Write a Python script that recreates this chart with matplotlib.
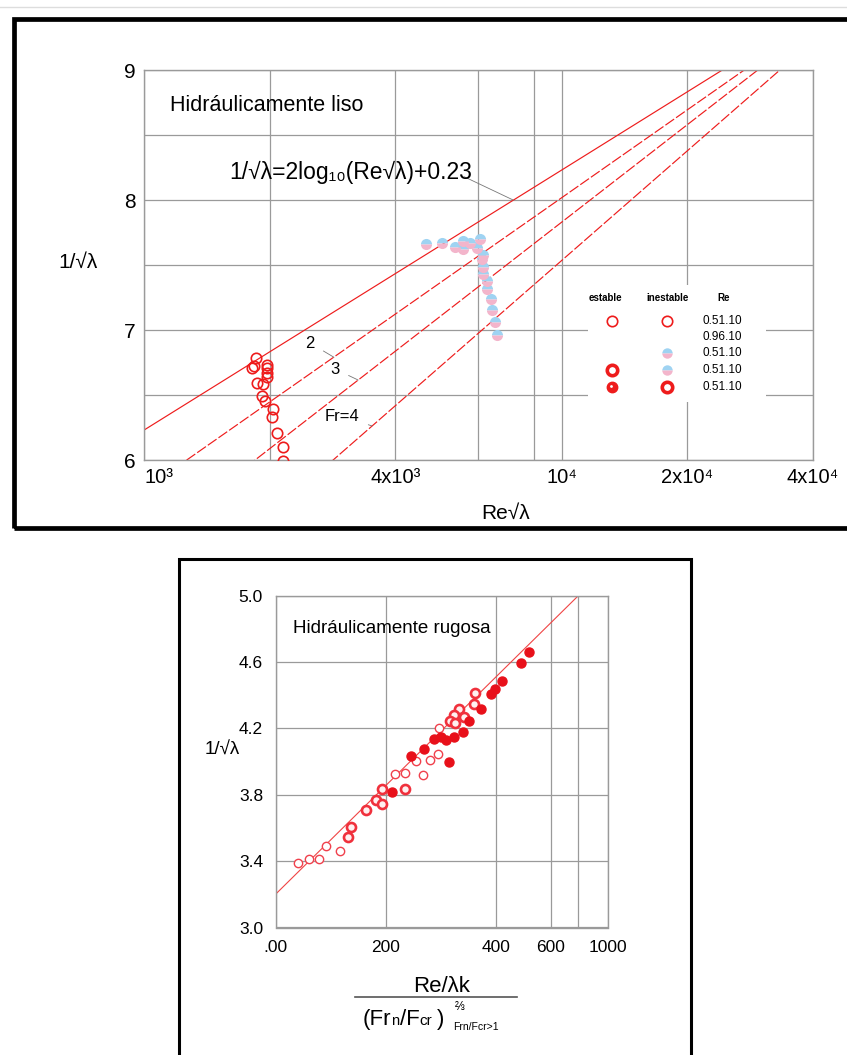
import matplotlib
matplotlib.use("Agg")
import matplotlib.pyplot as plt
import numpy as np
from matplotlib.lines import Line2D
from matplotlib.patches import Rectangle
from matplotlib.scale import FuncScale

FONT = ["Liberation Sans", "DejaVu Sans"]
plt.rcParams["font.family"] = FONT

W, H = 847, 1055

# ---------------- top panel data (hydraulically smooth) ----------------
# red open circles: estable, Re 0.51
est_x = [1855, 1833, 1811, 1968, 1968, 1974, 1968, 1863, 1924, 1913, 1949,
         2033, 2029, 2078, 2158, 2158]
est_y = [6.787, 6.723, 6.705, 6.731, 6.705, 6.672, 6.641, 6.590, 6.585, 6.492,
         6.456, 6.392, 6.328, 6.210, 6.098, 5.995]
# blue/pink circles: inestable
ine_x = [4729, 5160, 5556, 5797, 5816, 6036, 6286, 6380, 6494, 6437, 6474,
         6494, 6617, 6617, 6761, 6801, 6932, 7019]
ine_y = [7.662, 7.672, 7.641, 7.621, 7.687, 7.667, 7.628, 7.698, 7.577, 7.544,
         7.487, 7.428, 7.377, 7.313, 7.236, 7.154, 7.064, 6.962]

# law lines: 1/sqrt(lambda) = a + b*log10(Re sqrt(lambda))
smooth_a, smooth_b = 0.23, 2.0
fr_labels = ["2", "3", "Fr=4"]
fr_slope = [2.247, 2.492, 2.804]
fr_intercept = [-0.971, -2.139, -3.682]
fr_text_xy = [(2497, 6.90), (2865, 6.70), (2972, 6.338)]
fr_arrow_xy = [(2851, 6.79), (3258, 6.615), (3516, 6.262)]

top_major = [1000, 4000, 10000, 20000, 40000]
top_major_labels = ["10³", "4x10³", "10⁴", "2x10⁴", "4x10⁴"]
top_grid_x = [2000, 6300, 8600]

legend_re = ["0.51.10", "0.96.10", "0.51.10", "0.51.10", "0.51.10"]
legend_estable = ["open", None, None, "ring", "solid"]
legend_inestable = ["open", None, "bicolor", "bicolor", "ring"]

# ---------------- bottom panel data (hydraulically rough) ----------------
filled_x = [521, 491, 421, 399, 391, 372, 352, 340, 324, 309, 301, 315, 211,
            269, 288, 247]
filled_y = [4.663, 4.596, 4.488, 4.438, 4.408, 4.317, 4.245, 4.177, 4.151,
            4.131, 4.151, 4.000, 3.819, 4.077, 4.135, 4.034]
ring_x = [362, 361, 333, 324, 342, 317, 326, 236, 193, 182, 194, 165, 138, 132]
ring_y = [4.416, 4.348, 4.316, 4.281, 4.267, 4.247, 4.235, 3.834, 3.834, 3.769,
          3.743, 3.709, 3.605, 3.548]
open_x = [297, 295, 280, 256, 267, 236, 218, 117, 92, 79, 60, 40]
open_y = [4.205, 4.046, 4.010, 4.004, 3.920, 3.934, 3.924, 3.462, 3.494, 3.412,
          3.414, 3.388]
fit_x = [0, 800]
fit_y = [3.20, 5.00]

bot_ticks = [0, 200, 400, 600, 800, 1000]
bot_tick_labels = [".00", "200", "400", "600", "", "1000"]
bot_scale_pos = [0, 110, 220.5, 275.5, 302.8, 332]
bot_yticks = [3.0, 3.4, 3.8, 4.2, 4.6, 5.0]

RED = "#ee1c1c"
GRID = "#9a9a9a"


def fx(px):
    return px / W


def fy(py):
    return 1 - py / H


fig = plt.figure(figsize=(W / 100, H / 100), dpi=100)

# ---------------- frames ----------------
fig.add_artist(Line2D([0, 1], [fy(7), fy(7)], transform=fig.transFigure,
                      color="#dddddd", lw=1))
fig.add_artist(Rectangle((fx(14), fy(528)), fx(900) - fx(14), (528 - 19) / H,
                         transform=fig.transFigure, fill=False,
                         edgecolor="black", lw=3.4, zorder=0.5))
fig.add_artist(Rectangle((fx(179), fy(1060)), fx(691) - fx(179), (1060 - 559) / H,
                         transform=fig.transFigure, fill=False,
                         edgecolor="black", lw=2.2, zorder=0.5))

# ---------------- top panel ----------------
ax = fig.add_axes([fx(144), fy(460), fx(813) - fx(144), (460 - 70) / H])
ax.set_xscale("log")
ax.set_xlim(1000, 40000)
ax.set_ylim(6, 9)

xs = np.logspace(3, 4.7, 300)
ax.plot(xs, smooth_a + smooth_b * np.log10(xs), color=RED, lw=0.85, zorder=2)
for a, b in zip(fr_intercept, fr_slope):
    ax.plot(xs, a + b * np.log10(xs), color=RED, lw=0.85, ls=(0, (9, 2)), zorder=2)

ax.plot(est_x, est_y, "o", mfc="none", mec=RED, ms=7.5, mew=1.2, zorder=4)
ax.plot(ine_x, ine_y, "o", fillstyle="top", mfc="#9fd3f2",
        markerfacecoloralt="#f3b5cb", mec="none", mew=0, ms=8, zorder=4)

for lab, txy, axy in zip(fr_labels, fr_text_xy, fr_arrow_xy):
    ax.annotate(lab, xy=axy, xytext=txy, fontsize=12, ha="center", va="center",
                arrowprops=dict(arrowstyle="-", color="#777777", lw=0.6,
                                shrinkA=5, shrinkB=0))
# formula label and its leader
ax.annotate("", xy=(7656, 8.0), xytext=(5834, 8.18),
            arrowprops=dict(arrowstyle="-", color="#777777", lw=0.6,
                            shrinkA=0, shrinkB=0))
ax.text(0.49, 0.737, "1/√λ=2log₁₀(Re√λ)+0.23", transform=ax.transAxes,
        fontsize=16.5, ha="right", va="center")
ax.text(0.039, 0.91, "Hidráulicamente liso", transform=ax.transAxes,
        fontsize=15.5, ha="left", va="center")

ax.set_xticks(top_major)
ax.set_xticklabels(top_major_labels, fontsize=14.5)
ax.set_xticks(top_grid_x, minor=True)
ax.tick_params(axis="x", which="minor", length=0, labelbottom=False)
ax.get_xticklabels()[0].set_horizontalalignment("left")
ax.set_yticks(np.arange(6, 9.01, 0.5))
ax.set_yticklabels(["6", "", "7", "", "8", "", "9"], fontsize=15)
ax.tick_params(axis="both", which="major", length=0, pad=6)
ax.grid(True, which="both", color=GRID, lw=0.9)
ax.set_axisbelow(True)
for s in ax.spines.values():
    s.set_color(GRID)
    s.set_linewidth(1)

fig.text(fx(78), fy(262), "1/√λ", fontsize=15, ha="center", va="center")
fig.text(fx(506), fy(513), "Re√λ", fontsize=15, ha="center", va="center")

# legend block
fig.add_artist(Rectangle((fx(588), fy(402)), fx(766) - fx(588), (402 - 285) / H,
                         transform=fig.transFigure, facecolor="white",
                         edgecolor="none", zorder=1))
for lab, px in zip(["estable", "inestable", "Re"], [605, 668, 724]):
    fig.text(fx(px), fy(298), lab, fontsize=7, fontweight="bold",
             ha="center", va="center", zorder=3)
row_y = [320.7, 337, 352.7, 370, 386.7]


def legend_marker(kind, px, py):
    if kind is None:
        return
    kw = dict(transform=fig.transFigure, marker="o", ls="none", ms=7.5, zorder=3)
    if kind == "open":
        kw.update(mfc="white", mec=RED, mew=1.2)
    elif kind == "ring":
        kw.update(mfc="white", mec=RED, mew=2.6)
    elif kind == "solid":
        kw.update(mfc=RED, mec=RED, mew=1)
    else:
        kw.update(fillstyle="top", mfc="#9fd3f2", markerfacecoloralt="#f3b5cb",
                  mec="none", mew=0)
    fig.add_artist(Line2D([fx(px)], [fy(py)], **kw))
    if kind == "solid":
        fig.add_artist(Line2D([fx(px - 1)], [fy(py - 1)], transform=fig.transFigure,
                              marker="o", ls="none", ms=2, mfc="white",
                              mec="none", zorder=3.5))


for re_lab, ke, ki, py in zip(legend_re, legend_estable, legend_inestable, row_y):
    legend_marker(ke, 612, py)
    legend_marker(ki, 667, py)
    fig.text(fx(702), fy(py), re_lab, fontsize=8.5, ha="left", va="center",
             zorder=3)

# ---------------- bottom panel ----------------
bx = fig.add_axes([fx(275.5), fy(927.5), fx(607.5) - fx(275.5), (927.5 - 595.7) / H])
bx.set_xscale(FuncScale(bx, (lambda v: np.interp(v, bot_ticks, bot_scale_pos),
                             lambda p: np.interp(p, bot_scale_pos, bot_ticks))))
bx.set_xlim(0, 1000)
bx.set_ylim(3.0, 5.0)

bx.plot(fit_x, fit_y, color="#f04444", lw=0.8, zorder=2)
bx.plot(open_x, open_y, "o", mfc="white", mec="#f0404c", mew=1.0, ms=6, zorder=3)
bx.plot(ring_x, ring_y, "o", mfc="#fff0f0", mec="#f0303c", mew=1.9, ms=6.5, zorder=3)
bx.plot(filled_x, filled_y, "o", mfc="#e8101a", mec="#e8101a", mew=1, ms=6.5, zorder=4)

bx.text(0.054, 0.9, "Hidráulicamente rugosa", transform=bx.transAxes,
        fontsize=13.5, ha="left", va="center")

bx.set_xticks(bot_ticks)
bx.set_xticklabels(bot_tick_labels, fontsize=12.5)
bx.set_yticks(bot_yticks)
bx.set_yticklabels([f"{v:.1f}" for v in bot_yticks], fontsize=12.5)
bx.tick_params(axis="x", length=0, pad=9)
bx.tick_params(axis="y", length=0, pad=9)
bx.grid(True, color=GRID, lw=0.9)
bx.set_axisbelow(True)
for s in bx.spines.values():
    s.set_color(GRID)
    s.set_linewidth(1)

fig.text(fx(222), fy(750), "1/√λ", fontsize=13.5, ha="center", va="center")

# fraction x label
fig.text(fx(442), fy(986), "Re/λk", fontsize=16, ha="center", va="center")
fig.add_artist(Line2D([fx(355), fx(517)], [fy(997), fy(997)],
                      transform=fig.transFigure, color="#555555", lw=1.2))
renderer = fig.canvas.get_renderer()
cur = 363
for piece, size in [("(Fr", 16), ("n", 10.5), ("/F", 16), ("cr", 11), (")", 16)]:
    t = fig.text(fx(cur), fy(1025), piece, fontsize=size, ha="left", va="baseline")
    cur += t.get_window_extent(renderer).width + (5 if piece == "cr" else 0)
fig.text(fx(455), fy(1007), "⅔", fontsize=8.5, ha="left", va="center")
fig.text(fx(453), fy(1030), "Frn/Fcr>1", fontsize=7.5, ha="left", va="baseline")

fig.savefig("out.png", dpi=100)
